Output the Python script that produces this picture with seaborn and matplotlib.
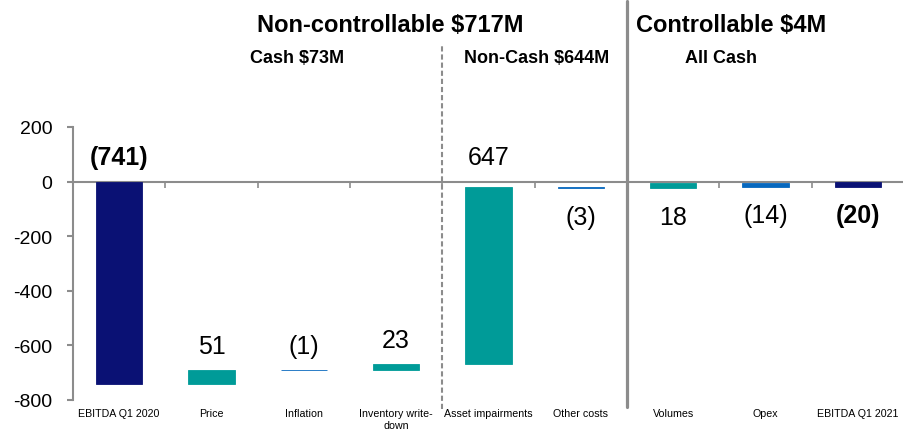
import matplotlib
matplotlib.use("Agg")
import matplotlib.pyplot as plt
import seaborn as sns
import numpy as np
import pandas as pd

# ---------------- data ----------------
categories = ["EBITDA Q1 2020", "Price", "Inflation", "Inventory write-\ndown",
              "Asset impairments", "Other costs", "Volumes", "Opex", "EBITDA Q1 2021"]
changes = [-741, 51, -1, 23, 647, -3, 18, -14, -20]
kinds = ["total", "up", "down", "up", "up", "down", "up", "down", "total"]
value_labels = ["(741)", "51", "(1)", "23", "647", "(3)", "18", "(14)", "(20)"]
group_titles = ["Non-controllable $717M", "Controllable $4M"]
sub_titles = ["Cash $73M", "Non-Cash $644M", "All Cash"]
y_ticks = [-800, -600, -400, -200, 0, 200]

# ---------------- style ----------------
label_side = ["above", "above", "above", "above", "above", "below", "below", "below", "below"]
bold_labels = [True, False, False, False, False, False, False, False, True]
kind_colors = {"total": "#0A1174", "up": "#009B98", "down": "#0768BE"}
gray = "#8C8C8C"

sns.set_style("white")
plt.rcParams["font.family"] = ["Liberation Sans", "DejaVu Sans"]
plt.rcParams["axes.unicode_minus"] = False
plt.rcParams["text.color"] = "black"

# waterfall geometry derived from the data
bottoms, heights = [], []
level = 0
for k, v in zip(kinds, changes):
    if k == "total":
        bottoms.append(0)
        heights.append(v)
        level = v
    else:
        bottoms.append(level)
        heights.append(v)
        level += v

df = pd.DataFrame({"category": categories, "height": heights, "bottom": bottoms})

W, H = 904, 431
fig = plt.figure(figsize=(W / 100, H / 100), dpi=100)
ax = fig.add_axes([73 / W, 30 / H, 831 / W, 273 / H])

sns.barplot(data=df, x="category", y="height", bottom=df["bottom"].to_numpy(),
            width=0.5, errorbar=None, ax=ax, color=kind_colors["total"])
for p, k in zip(ax.patches, kinds):
    c = kind_colors[k]
    p.set_facecolor(c)
    p.set_edgecolor(c)
    p.set_linewidth(0.6)

ax.set_xlim(-0.5, len(categories) - 0.5)
ax.set_ylim(y_ticks[0], y_ticks[-1])
ax.set_yticks(y_ticks)
ax.set_xlabel("")
ax.set_ylabel("")

for s in ["top", "right", "bottom"]:
    ax.spines[s].set_visible(False)
ax.spines["left"].set_color(gray)
ax.spines["left"].set_linewidth(1.5)
ax.tick_params(axis="y", direction="out", length=4, width=1.5, color=gray,
               labelsize=14, pad=11, labelcolor="black", left=True)
ax.tick_params(axis="x", length=0, labelsize=7.7, pad=6, labelcolor="black")

# zero line with boundary ticks
zero_loc = (0 - y_ticks[0]) / (y_ticks[-1] - y_ticks[0])
sec = ax.secondary_xaxis(zero_loc)
sec.set_xticks(np.arange(len(categories) - 1) + 0.5)
sec.set_xticklabels([])
sec.tick_params(axis="x", direction="in", length=4, width=1.2, color=gray)
for s in sec.spines.values():
    s.set_color(gray)
    s.set_linewidth(1.5)

# value labels
for i, (b, h, lab, side, bold) in enumerate(zip(bottoms, heights, value_labels, label_side, bold_labels)):
    top = max(b, b + h)
    low = min(b, b + h)
    if side == "above":
        anchor = top if top < -100 else 0
        off = 12.5
    else:
        anchor = low
        off = -25.5
    ax.annotate(lab, xy=(i, anchor), xytext=(0, off), textcoords="offset points",
                ha="center", va="baseline", fontsize=18,
                fontweight="bold" if bold else "normal", color="black",
                annotation_clip=False)

# group dividers
ax.axvline(3.5, ymin=-0.033, ymax=1.30, color=gray, lw=1.5, ls=(0, (2.5, 1.4)), clip_on=False)
ax.axvline(5.5, ymin=-0.026, ymax=1.46, color=gray, lw=2.3, clip_on=False)

# titles
fig.text(390 / W, 1 - 31.7 / H, group_titles[0], ha="center", va="baseline",
         fontsize=17, fontweight="bold", color="black")
fig.text(731 / W, 1 - 31.7 / H, group_titles[1], ha="center", va="baseline",
         fontsize=17, fontweight="bold", color="black")
for x, t in zip([297, 537, 721], sub_titles):
    fig.text(x / W, 1 - 62.7 / H, t, ha="center", va="baseline", fontsize=13,
             fontweight="bold", color="black")

fig.savefig("out.png", dpi=100)
